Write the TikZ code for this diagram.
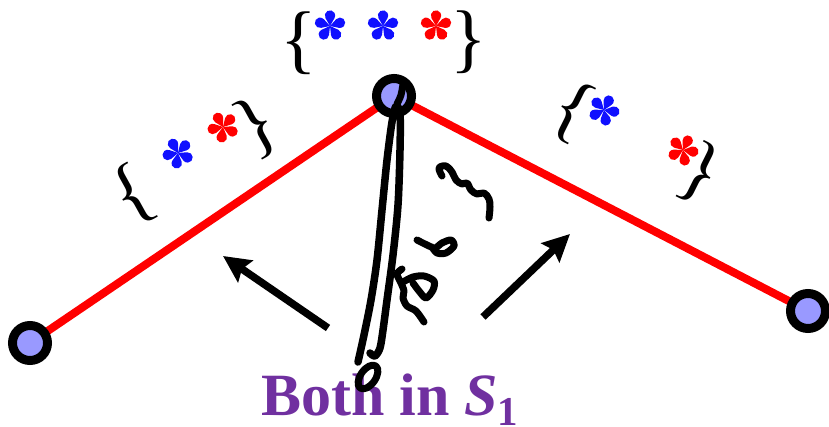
\documentclass[tikz,border=0pt]{standalone}
\usepackage{fontspec}
\setmainfont{Liberation Serif}
\usetikzlibrary{arrows.meta,backgrounds}
\definecolor{lav}{HTML}{9999FF}
\definecolor{purp}{HTML}{7030A0}
\definecolor{aBlue}{HTML}{1010FF}
\definecolor{aRed}{HTML}{FF0000}
\begin{document}
\begin{tikzpicture}[x=1pt,y=-1pt,
  vert/.style={circle,draw=black,fill=lav,line width=9pt,minimum size=35pt,inner sep=0pt},
  edgeline/.style={draw=aRed,line width=8pt},
  glyph/.style={inner sep=0pt,font=\fontsize{76}{76}\selectfont},
  bigarrow/.style={line width=7.5pt,-{Stealth[length=27pt,width=26pt,inset=4pt]}},
  ink/.style={line width=7pt,line cap=round,line join=round},
  caption/.style={text=purp,font=\fontsize{60}{60}\selectfont\bfseries,inner sep=0pt,anchor=base west},
  astr/.pic={
    \foreach \a in {18,90,162,234,306}{
      \fill[#1,rotate=\a] (0,0) -- (7.9,-4.5) arc[start angle=-120,end angle=120,radius=5.2] -- cycle;
    }
  }
]
\useasboundingbox (0,0) rectangle (829,427);

% vertices
\node[vert] (L) at (30,343) {};
\node[vert] (T) at (394,96) {};
\node[vert] (R) at (808,311) {};
\begin{scope}[on background layer]
  \draw[edgeline] (T.center) -- (L.center);
  \draw[edgeline] (T.center) -- (R.center);
\end{scope}

% top set
\node[glyph] (tb1) at (298.5,43) {\{};
\pic (ts1) at (330,26) {astr=aBlue};
\pic (ts2) at (383,26) {astr=aBlue};
\pic (ts3) at (436,26) {astr=aRed};
\node[glyph] (tb2) at (468.5,42) {\}};

% left set
\node[glyph,rotate=29] (lb1) at (133,195) {\{};
\pic[rotate=29] (ls1) at (178,153) {astr=aBlue};
\pic[rotate=29] (ls2) at (223,127) {astr=aRed};
\node[glyph,rotate=29] (lb2) at (257,127) {\}};

% right set
\node[glyph,rotate=-26.5] (rb1) at (572,112) {\{};
\pic[rotate=-26.5] (rs1) at (604,110) {astr=aBlue};
\pic[rotate=-26.5] (rs2) at (683,150) {astr=aRed};
\node[glyph,rotate=-26.5] (rb2) at (700,174) {\}};

% arrows
\coordinate (a1s) at (328,328);
\coordinate (a1e) at (223,256);
\coordinate (a2s) at (483,317);
\coordinate (a2e) at (570,234);
\draw[bigarrow] (a1s) -- (a1e);
\draw[bigarrow] (a2s) -- (a2e);

% caption
\node[caption] (cap) at (261,415) {Both in \textit{S}\raisebox{-10pt}{\fontsize{41}{41}\selectfont 1}};

% handwritten strokes
\draw[ink] plot[smooth,tension=0.6] coordinates {(403,84) (401,95) (397,104)};
\draw[ink,line width=7.5pt] plot[smooth,tension=0.5] coordinates {(358,362) (364,335) (371,300) (377,260) (382,210) (387,160) (392,122) (396,106) (400,114) (400,150) (398,205) (393,255) (387,300) (383,330) (380,348) (375,356) (370,353)};
\draw[ink,rotate around={55:(368,377)}] (368,377) ellipse [x radius=13.5, y radius=7.5];
\draw[ink] plot[smooth,tension=0.6] coordinates {(442,176) (439,168) (446,166) (452,172) (456,180) (462,184) (467,183) (471,190) (477,194) (484,193) (489,199) (490,207) (489,218)};
\draw[ink] plot[smooth,tension=0.5] coordinates {(417,240) (427,245) (435,248) (442,243) (451,240) (454,246) (446,253) (437,253) (432,247)};
\draw[ink] plot[smooth,tension=0.5] coordinates {(402,269) (397,274) (401,283) (404,291) (403,298) (407,306) (416,311) (424,322)};
\draw[ink] plot[smooth,tension=0.5] coordinates {(403,282) (413,277) (424,276) (434,281) (433,290) (426,298) (419,291) (413,283)};
\end{tikzpicture}
\end{document}
